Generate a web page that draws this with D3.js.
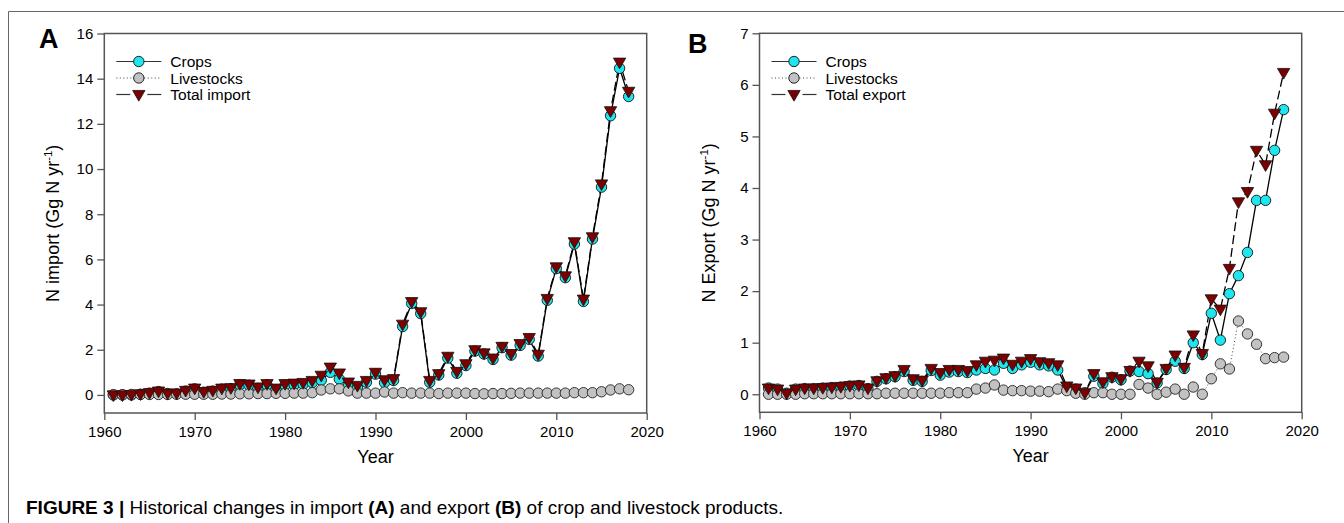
<!DOCTYPE html>
<html><head><meta charset="utf-8">
<script src="https://cdn.jsdelivr.net/npm/d3@7"></script>
<style>
html,body{margin:0;padding:0;background:#fff;}
svg text{font-family:"Liberation Sans",Arial,sans-serif;fill:#000;}
</style></head>
<body>
<svg id="c" width="1344" height="523"></svg>
<script>
const years = d3.range(1961, 2019);
const importCrops = [0.0,0.0,0.0,0.03,0.08,0.15,0.06,0.05,0.17,0.27,
 0.12,0.17,0.26,0.28,0.45,0.43,0.29,0.44,0.23,0.43,
 0.44,0.47,0.54,0.65,1.0,0.7,0.39,0.34,0.56,0.92,
 0.54,0.64,3.03,4.05,3.6,0.56,0.88,1.63,0.96,1.3,
 1.94,1.81,1.57,2.09,1.76,2.19,2.46,1.72,4.19,5.59,
 5.19,6.68,4.14,6.9,9.2,12.36,14.46,13.21];
const importLivestock = [0.01,0.01,0.02,0.02,0.02,0.02,0.02,0.03,0.03,0.03,
 0.03,0.03,0.04,0.04,0.05,0.05,0.06,0.06,0.07,0.07,
 0.08,0.08,0.1,0.22,0.27,0.27,0.18,0.08,0.08,0.08,
 0.13,0.08,0.1,0.08,0.08,0.08,0.06,0.08,0.08,0.08,
 0.06,0.05,0.06,0.06,0.07,0.08,0.08,0.08,0.08,0.08,
 0.08,0.1,0.1,0.1,0.14,0.22,0.27,0.23];
const importTotal = [0.0,0.0,0.02,0.05,0.1,0.17,0.08,0.08,0.2,0.3,
 0.15,0.2,0.3,0.32,0.5,0.48,0.35,0.5,0.3,0.5,
 0.52,0.55,0.64,0.87,1.23,0.97,0.57,0.42,0.64,1.0,
 0.67,0.72,3.13,4.13,3.68,0.64,0.94,1.71,1.04,1.38,
 2.0,1.86,1.63,2.15,1.83,2.27,2.54,1.8,4.27,5.67,
 5.27,6.78,4.24,7.0,9.34,12.58,14.73,13.44];
const exportCrops = [0.12,0.1,0.02,0.1,0.11,0.11,0.12,0.13,0.14,0.16,
 0.17,0.11,0.25,0.3,0.34,0.44,0.27,0.25,0.46,0.37,
 0.43,0.44,0.42,0.47,0.5,0.47,0.6,0.5,0.57,0.62,
 0.57,0.55,0.47,0.12,0.1,0.03,0.35,0.21,0.33,0.28,
 0.45,0.44,0.4,0.22,0.48,0.64,0.5,1.0,0.77,1.57,
 1.05,1.95,2.3,2.75,3.76,3.76,4.73,5.52];
const exportLivestock = [0.0,0.0,0.0,0.0,0.01,0.01,0.01,0.01,0.01,0.01,
 0.01,0.01,0.01,0.02,0.02,0.02,0.02,0.02,0.02,0.02,
 0.03,0.03,0.03,0.1,0.12,0.18,0.08,0.07,0.07,0.06,
 0.06,0.05,0.1,0.07,0.02,0.0,0.03,0.03,0.0,0.0,
 0.0,0.19,0.12,0.0,0.04,0.1,0.0,0.14,0.0,0.3,
 0.59,0.49,1.42,1.17,0.97,0.69,0.71,0.72];
const exportTotal = [0.12,0.1,0.02,0.1,0.12,0.12,0.13,0.14,0.15,0.17,
 0.18,0.12,0.26,0.32,0.36,0.48,0.3,0.27,0.5,0.42,
 0.48,0.48,0.46,0.57,0.64,0.66,0.7,0.58,0.64,0.69,
 0.63,0.61,0.57,0.16,0.12,0.03,0.4,0.24,0.34,0.3,
 0.46,0.64,0.55,0.23,0.5,0.76,0.52,1.15,0.79,1.85,
 1.65,2.44,3.73,3.93,4.73,4.45,5.45,6.24];
const xTicks = [1960,1970,1980,1990,2000,2010,2020];
const importTicks = [0,2,4,6,8,10,12,14,16];
const exportTicks = [0,1,2,3,4,5,6,7];
const seriesNames = ["Crops","Livestocks"];

const svg = d3.select("#c");
const FONT = '"Liberation Sans",Arial,sans-serif';
const CYAN = "#1fe6ee", GREY = "#c2c2c2", RED = "#7d0000", AX = "#555";

svg.append("line").attr("x1",8.5).attr("x2",1344).attr("y1",11.5).attr("y2",11.5).attr("stroke","#666").attr("stroke-width",1);
svg.append("line").attr("x1",8.5).attr("x2",8.5).attr("y1",11.5).attr("y2",523).attr("stroke","#666").attr("stroke-width",1);

const tri = d3.symbol(d3.symbolTriangle, 66);

function panel(cfg){
  const g = svg.append("g");
  const x = d3.scaleLinear().domain([1960,2020]).range([cfg.left,cfg.right]);
  const y = d3.scaleLinear().domain(cfg.ydom).range([cfg.bottom,cfg.top]);
  const xa = g.append("g").attr("transform",`translate(0,${cfg.bottom})`)
    .call(d3.axisBottom(x).tickValues(xTicks).tickFormat(d3.format("d")).tickSize(7).tickPadding(6));
  const ya = g.append("g").attr("transform",`translate(${cfg.left},0)`)
    .call(d3.axisLeft(y).tickValues(cfg.yticks).tickSize(7).tickPadding(4));
  [xa,ya].forEach(a=>{
    a.select(".domain").remove();
    a.selectAll(".tick line").attr("stroke",AX).attr("stroke-width",1.3);
    a.selectAll(".tick text").attr("font-size",15).attr("font-family",FONT).attr("fill","#111");
  });
  g.append("rect").attr("x",cfg.left).attr("y",cfg.top).attr("width",cfg.right-cfg.left).attr("height",cfg.bottom-cfg.top)
    .attr("fill","none").attr("stroke",AX).attr("stroke-width",1.5);

  const mk = arr => arr.map((v,i)=>({yr:years[i],v}));
  const line = d3.line().x(d=>x(d.yr)).y(d=>y(d.v));
  const crops = mk(cfg.crops), live = mk(cfg.live), tot = mk(cfg.total);
  g.append("path").attr("d",line(crops)).attr("fill","none").attr("stroke","#000").attr("stroke-width",1.3);
  g.append("path").attr("d",line(live)).attr("fill","none").attr("stroke","#444").attr("stroke-width",1).attr("stroke-dasharray","1,2.5");
  g.append("path").attr("d",line(tot)).attr("fill","none").attr("stroke","#000").attr("stroke-width",1.3).attr("stroke-dasharray","9,4");
  g.selectAll(null).data(crops).join("circle").attr("cx",d=>x(d.yr)).attr("cy",d=>y(d.v)).attr("r",5.2)
    .attr("fill",CYAN).attr("stroke","#111").attr("stroke-width",0.9);
  g.selectAll(null).data(live).join("circle").attr("cx",d=>x(d.yr)).attr("cy",d=>y(d.v)).attr("r",5.2)
    .attr("fill",GREY).attr("stroke","#222").attr("stroke-width",0.9);
  g.selectAll(null).data(tot).join("path").attr("d",tri)
    .attr("transform",d=>`translate(${x(d.yr)},${y(d.v)-0.5}) rotate(180)`)
    .attr("fill",RED).attr("stroke","#111").attr("stroke-width",0.8);

  g.append("text").attr("x",(cfg.left+cfg.right)/2).attr("y",cfg.bottom+50).attr("text-anchor","middle")
    .attr("font-size",18).text("Year");
  const yt = g.append("text").attr("transform",`translate(${cfg.left-45},${(cfg.top+cfg.bottom)/2}) rotate(-90)`)
    .attr("text-anchor","middle").attr("font-size",18);
  yt.append("tspan").text(cfg.ytitle+" (Gg N yr");
  yt.append("tspan").attr("dy",-7).attr("font-size",11.5).text("-1");
  yt.append("tspan").attr("dy",7).text(")");

  g.append("text").attr("x",cfg.letterX).attr("y",cfg.letterY).attr("font-size",27).attr("font-weight","bold").text(cfg.letter);

  const lx = cfg.left+12, rows = [61.5,78,94.5];
  const names = seriesNames.concat([cfg.totalName]);
  rows.forEach((ry,i)=>{
    const lg = g.append("g");
    if(i===0) lg.append("line").attr("x1",lx).attr("x2",lx+45).attr("y1",ry).attr("y2",ry).attr("stroke","#333").attr("stroke-width",1.2);
    if(i===1) lg.append("line").attr("x1",lx).attr("x2",lx+45).attr("y1",ry).attr("y2",ry).attr("stroke","#444").attr("stroke-width",1).attr("stroke-dasharray","1,2.5");
    if(i===2){
      lg.append("line").attr("x1",lx).attr("x2",lx+14).attr("y1",ry).attr("y2",ry).attr("stroke","#333").attr("stroke-width",1.2);
      lg.append("line").attr("x1",lx+31).attr("x2",lx+45).attr("y1",ry).attr("y2",ry).attr("stroke","#333").attr("stroke-width",1.2);
    }
    if(i<2) lg.append("circle").attr("cx",lx+22.5).attr("cy",ry).attr("r",5.2).attr("fill",i===0?CYAN:GREY).attr("stroke","#111").attr("stroke-width",0.9);
    else lg.append("path").attr("d",tri).attr("transform",`translate(${lx+22.5},${ry-0.5}) rotate(180)`).attr("fill",RED).attr("stroke","#111").attr("stroke-width",0.8);
    lg.append("text").attr("x",lx+54).attr("y",ry+5.5).attr("font-size",15.5).text(names[i]);
  });
}

panel({left:104.3,right:646.7,top:33.5,bottom:413,ydom:[-0.8,16],yticks:importTicks,
  crops:importCrops,live:importLivestock,total:importTotal,ytitle:"N import",totalName:"Total import",
  letter:"A",letterX:39,letterY:48});
panel({left:759.5,right:1301.7,top:33.3,bottom:412.3,ydom:[-0.35,7],yticks:exportTicks,
  crops:exportCrops,live:exportLivestock,total:exportTotal,ytitle:"N Export",totalName:"Total export",
  letter:"B",letterX:688,letterY:53});

const cap = svg.append("text").attr("x",26).attr("y",514).attr("font-size",19);
cap.append("tspan").attr("font-weight","bold").text("FIGURE 3 | ");
cap.append("tspan").text("Historical changes in import ");
cap.append("tspan").attr("font-weight","bold").text("(A)");
cap.append("tspan").text(" and export ");
cap.append("tspan").attr("font-weight","bold").text("(B)");
cap.append("tspan").text(" of crop and livestock products.");
</script>
</body></html>
